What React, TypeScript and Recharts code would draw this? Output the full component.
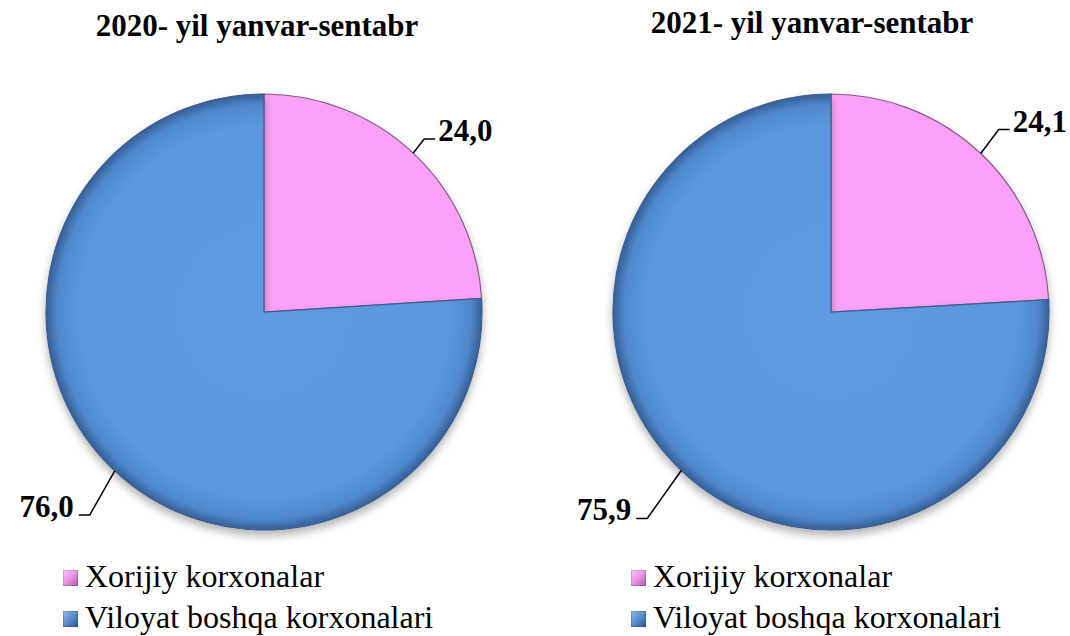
import React from 'react';
import { PieChart, Pie, Cell } from 'recharts';

// Chart data
const categories = ['Xorijiy korxonalar', 'Viloyat boshqa korxonalari'];
const years = ['2020- yil yanvar-sentabr', '2021- yil yanvar-sentabr'];
const values2020 = [24.0, 76.0];
const values2021 = [24.1, 75.9];

const FILLS = ['#fba2f8', 'url(#gradBlue)'];
const STROKES = ['#8a5a8c', '#3a5f8f'];
const MARKERS = [
  'linear-gradient(135deg, #ffc4fd 0%, #e58ee2 55%, #a35aa1 100%)',
  'linear-gradient(135deg, #8fbbeb 0%, #5689c7 55%, #2f5486 100%)',
];

// leader line knee offsets from slice edge, per pie / per slice
const KNEES = [
  [[11, -14], [-25, 44]],
  [[18, -24], [-34, 48]],
];

const FONT = "'Liberation Serif', 'Times New Roman', serif";
const RADIAN = Math.PI / 180;
const fmt = (v: number) => v.toFixed(1).replace('.', ',');

const makeLabel = (pieIdx: number) => (props: any) => {
  const { cx, cy, midAngle, outerRadius, value, index } = props;
  const ex = cx + outerRadius * Math.cos(-midAngle * RADIAN);
  const ey = cy + outerRadius * Math.sin(-midAngle * RADIAN);
  const [dx, dy] = KNEES[pieIdx][index];
  const kx = ex + dx;
  const ky = ey + dy;
  const right = dx > 0;
  const hx = right ? kx + 11 : kx - 11;
  return (
    <g>
      <polyline
        points={`${ex},${ey} ${kx},${ky} ${hx},${ky}`}
        fill="none"
        stroke="#000"
        strokeWidth={1.5}
      />
      <text
        x={right ? hx + 3 : hx - 5}
        y={ky + 2}
        textAnchor={right ? 'start' : 'end'}
        fontFamily={FONT}
        fontWeight="bold"
        fontSize={31}
        fill="#000"
      >
        {fmt(value)}
      </text>
    </g>
  );
};

const Legend = ({ left }: { left: number }) => (
  <div
    style={{
      position: 'absolute',
      left,
      top: 556,
      fontFamily: FONT,
      fontSize: 32,
      lineHeight: '41px',
      color: '#000',
      whiteSpace: 'nowrap',
    }}
  >
    {categories.map((c, i) => (
      <div key={c} style={{ display: 'flex', alignItems: 'center' }}>
        <span
          style={{
            display: 'inline-block',
            width: 15,
            height: 16,
            marginTop: 3,
            marginRight: 7,
            background: MARKERS[i],
            boxShadow: 'inset 0 0 0 1px rgba(0,0,0,0.15)',
          }}
        />
        <span>{c}</span>
      </div>
    ))}
  </div>
);

const Title = ({ text, center, top }: { text: string; center: number; top: number }) => (
  <div
    style={{
      position: 'absolute',
      left: center - 250,
      width: 500,
      top,
      textAlign: 'center',
      fontFamily: FONT,
      fontWeight: 'bold',
      fontSize: 31,
      lineHeight: '31px',
      color: '#000',
    }}
  >
    {text}
  </div>
);

export default function App() {
  const data2020 = categories.map((name, i) => ({ name, value: values2020[i] }));
  const data2021 = categories.map((name, i) => ({ name, value: values2021[i] }));
  const pies = [
    { data: data2020, cx: 259 },
    { data: data2021, cx: 826 },
  ];

  return (
    <div style={{ position: 'absolute', left: 0, top: 0, width: 1070, height: 636, background: '#fff', overflow: 'hidden' }}>
      <PieChart width={1070} height={636}>
        <defs>
          <radialGradient id="gradBlue" gradientUnits="objectBoundingBox" cx="0.5" cy="0.5" r="0.5">
            <stop offset="0%" stopColor="#5e9ae0" />
            <stop offset="85%" stopColor="#5b97dd" />
            <stop offset="95%" stopColor="#4f88cc" />
            <stop offset="100%" stopColor="#355f96" />
          </radialGradient>
          <filter id="pieShadow" x="-10%" y="-10%" width="120%" height="125%">
            <feDropShadow dx="0" dy="5" stdDeviation="4" floodColor="#000" floodOpacity="0.3" />
          </filter>
        </defs>
        {pies.map((p, pi) => (
          <Pie
            key={pi}
            data={p.data}
            dataKey="value"
            nameKey="name"
            cx={p.cx}
            cy={307}
            outerRadius={218}
            startAngle={90}
            endAngle={-270}
            label={makeLabel(pi)}
            labelLine={false}
            isAnimationActive={false}
          >
            {p.data.map((d, i) => (
              <Cell
                key={d.name}
                fill={FILLS[i]}
                stroke={STROKES[i]}
                strokeWidth={1.2}
                style={{ filter: 'url(#pieShadow)' }}
              />
            ))}
          </Pie>
        ))}
      </PieChart>
      <Title text={years[0]} center={257} top={10} />
      <Title text={years[1]} center={812} top={7} />
      <Legend left={63} />
      <Legend left={631} />
    </div>
  );
}
